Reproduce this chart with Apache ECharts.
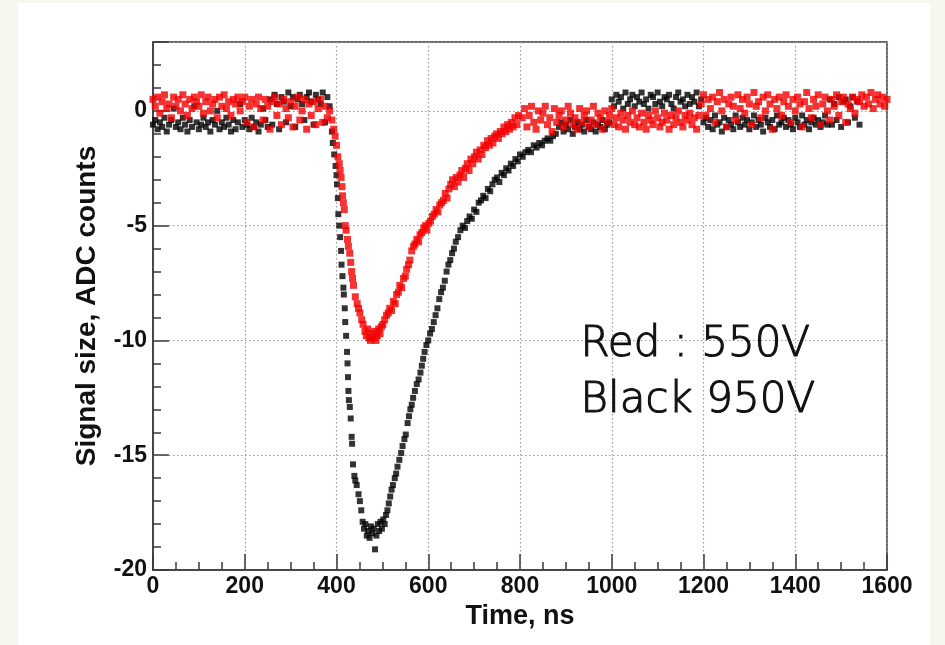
<!DOCTYPE html>
<html>
<head>
<meta charset="utf-8">
<script src="https://cdn.jsdelivr.net/npm/echarts@6/dist/echarts.min.js"></script>
<style>
  html, body { margin: 0; padding: 0; background: #f6f7ee; }
  #chart { width: 945px; height: 645px; }
</style>
</head>
<body>
<div id="chart"></div>
<script>
// baseline samples, every 5 ns (ADC counts)
const redPreStart = 0
const redPre = [
  0.5, 0.2, 0.6, -0.1, 0.4, 0.7, 0.1, 0.3, -0.3, 0.6, 0.2, 0.5, 0.0, 0.7, 0.3, -0.2, 0.5, 0.1, 0.6, 0.4,
  0.2, 0.7, -0.1, 0.4, 0.6, 0.0, 0.3, 0.5, -0.3, 0.6, 0.2, 0.7, 0.1, 0.4, -0.2, 0.5, 0.3, 0.6, 0.0, 0.4,
  0.6, -0.5, 0.2, 0.5, -0.7, 0.3, 0.6, 0.1, -0.4, 0.5, 0.2, -0.8, 0.4, 0.6, -0.2, 0.3, -0.6, 0.5, 0.1, -0.3,
  0.4, -0.7, 0.2, 0.6, -0.4, 0.0, 0.5, -0.8, 0.3, -0.2, 0.4, -0.6, 0.1, 0.5, -0.5, 0.2, -0.3, 0.0
]
const redPostStart = 805
const redPost = [
  -0.3, 0.1, -0.7, -0.2, 0.2, -0.5, -0.8, 0.0, -0.4, -0.1, 0.2, -0.6, -0.3, -0.9, 0.1, -0.5, -0.2, 0.0, -0.7, -0.4,
  0.2, -0.1, -0.6, -0.3, -0.8, 0.1, -0.5, -0.2, 0.0, -0.7, -0.4, 0.2, -0.6, -0.1, -0.3, -0.8, 0.0, -0.5, -0.2, 0.1,
  -0.6, -0.3, -0.7, -0.1, -0.4, -0.8, -0.2, -0.5, 0.0, -0.6, -0.3, -0.7, -0.1, -0.5, -0.8, -0.2, -0.4, -0.6, 0.0, -0.3,
  -0.7, -0.5, -0.1, -0.4, -0.8, -0.2, -0.6, -0.3, 0.0, -0.5, -0.7, -0.2, -0.4, -0.1, -0.6, -0.3, -0.8, -0.2,
  0.3, 0.7, -0.2, 0.5, 0.1, 0.6, -0.5, 0.4, 0.8, 0.0, 0.5, -0.7, 0.3, 0.6, 0.2, -0.4, 0.7, 0.1, 0.5, -0.1,
  0.6, 0.3, -0.6, 0.8, 0.2, 0.4, -0.3, 0.6, 0.0, 0.7, 0.3, -0.8, 0.5, 0.1, 0.6, -0.2, 0.4, 0.7, 0.2, -0.5,
  0.5, 0.0, 0.6, 0.3, -0.7, 0.4, 0.8, 0.1, -0.3, 0.5, 0.2, 0.7, -0.6, 0.3, 0.6, 0.0, -0.4, 0.5, 0.2, 0.7,
  -0.2, 0.4, 0.6, -0.5, 0.3, 0.1, 0.6, -0.1, 0.5,
  0.4, 0.7, 0.2, 0.6, 0.3, 0.8, 0.1, 0.5, 0.7, 0.3, 0.6, 0.2, 0.5
]
const redPulse = [
  [390, -0.4], [394, -0.8], [397, -1.1], [400, -1.5], [403, -2.0], [406, -2.3], [408, -2.6], [410, -2.9],
  [412, -3.3], [413, -3.7], [415, -4.0], [417, -4.3], [419, -5.0], [421, -5.2], [424, -5.6], [426, -5.9],
  [429, -6.2], [431, -6.6], [433, -7.0], [435, -7.3], [437, -7.6], [441, -8.1], [445, -8.4], [448, -8.6],
  [451, -8.8], [455, -9.1], [458, -9.3], [462, -9.6], [465, -9.8], [468, -9.5], [471, -9.9], [474, -10.0],
  [477, -9.7], [480, -9.9], [483, -9.6], [486, -10.0], [489, -9.8], [492, -9.5], [495, -9.7], [498, -9.4],
  [501, -9.3], [505, -9.1], [509, -8.9], [513, -8.8], [516, -8.6], [520, -8.7], [524, -8.3], [528, -8.4],
  [531, -8.0], [535, -7.9], [538, -7.6], [542, -7.7], [546, -7.3], [550, -7.2], [553, -6.9], [557, -6.7],
  [560, -6.5], [564, -6.1], [568, -5.9], [571, -5.8], [575, -5.6], [579, -5.7], [582, -5.4], [586, -5.3],
  [590, -5.1], [594, -5.0], [597, -5.2], [601, -4.9], [605, -4.8], [609, -4.6], [613, -4.5], [617, -4.3],
  [621, -4.4], [625, -4.1], [629, -4.0], [633, -3.9], [637, -3.6], [641, -3.8], [645, -3.4], [649, -3.2],
  [653, -3.0], [657, -3.3], [661, -2.9], [665, -3.1], [669, -2.8], [673, -2.6], [677, -2.9], [681, -2.5],
  [685, -2.3], [689, -2.6], [693, -2.1], [697, -2.3], [701, -2.0], [705, -1.8], [709, -2.1], [713, -1.7],
  [717, -1.9], [721, -1.5], [725, -1.6], [729, -1.3], [733, -1.5], [737, -1.2], [741, -1.4], [745, -1.1],
  [749, -1.0], [753, -1.2], [757, -0.9], [761, -1.0], [765, -0.7], [769, -0.9], [773, -0.6], [777, -0.8],
  [781, -0.5], [785, -0.7], [789, -0.3], [793, -0.6], [797, -0.2]
]

const blackPreStart = 0
const blackPre = [
  -0.6, -0.4, -0.8, -0.5, -0.7, -0.3, -0.9, -0.6, -0.4, 0.1, -0.7, -0.5, -0.8, -0.3, -0.6, -0.9, -0.4, -0.7, 0.2, -0.5,
  -0.8, -0.6, -0.3, -0.7, -0.5, -0.9, -0.4, -0.6, 0.0, -0.8, -0.5, -0.7, -0.3, -0.6, -0.9, -0.4, -0.8, -0.5, 0.3, -0.7,
  -0.4, -0.6, -0.8, -0.3, -0.7, -0.5, -0.9, -0.6, 0.1, -0.4, -0.7,
  0.5, -0.6, 0.7, 0.3, -0.8, 0.6, 0.4, -0.5, 0.8, 0.2, 0.6, -0.7, 0.5, 0.7, 0.3, -0.4, 0.6, 0.8, 0.4, -0.6,
  0.7, 0.5, 0.3, 0.8, -0.5, 0.6, 0.2
]
const blackPostStart = 885
const blackPost = [
  -0.7, -0.5, -0.9, -0.6, -0.8, -0.4, -1.0, -0.7, -0.5, -0.8, -0.6, -0.9, -0.4, -0.7, -0.8, -0.5, -0.9, -0.6, -0.7, -0.4,
  -0.8, -0.6, -0.5,
  0.5, 0.2, 0.7, 0.4, 0.6, 0.1, 0.8, 0.3, 0.5, 0.7, 0.2, 0.6, 0.4, 0.8, 0.3, 0.5, 0.1, 0.7, 0.6, 0.3,
  0.8, 0.4, 0.2, 0.6, 0.5, 0.7, 0.3, 0.1, 0.6, 0.8, 0.4, 0.5, 0.2, 0.7, 0.3, 0.6, 0.4, 0.8, 0.2, 0.5,
  -0.5, -0.3, -0.7, -0.4, -0.8, -0.2, -0.6, -0.5, -0.9, -0.3, -0.7, -0.4, -0.6, -0.8, -0.2, -0.5, -0.7, -0.3, -0.6, -0.4,
  -0.8, -0.5, -0.2, -0.7, -0.4, -0.6, -0.9, -0.3, -0.5, -0.7, -0.4, -0.8, -0.2, -0.6, -0.5, -0.3, -0.7, -0.4, -0.6, -0.8,
  -0.3, -0.5, -0.7, -0.2, -0.6, -0.4, -0.8, -0.5, -0.3, -0.6, -0.4, -0.7, -0.5, -0.2, -0.6,
  0.5, -0.6, 0.3, -0.4, 0.6, -0.7, 0.4, 0.5, -0.5, 0.2, 0.6, -0.3, 0.4, -0.6
]
const blackPulse = [
  [390, -0.9], [392, -1.4], [395, -1.9], [398, -2.4], [400, -2.8], [401, -3.2], [403, -3.8], [404, -4.5],
  [406, -5.0], [408, -5.5], [410, -6.1], [411, -6.7], [413, -7.2], [415, -7.7], [416, -8.0], [418, -8.6],
  [419, -9.2], [421, -9.8], [423, -10.5], [424, -11.0], [425, -11.6], [426, -12.2], [427, -12.6], [429, -12.9],
  [431, -13.4], [433, -14.2], [434, -14.5], [436, -15.4], [439, -15.9], [441, -16.1], [444, -16.3], [448, -16.7],
  [451, -17.0], [454, -17.4], [457, -17.9], [460, -18.2], [463, -18.0], [466, -18.5], [469, -18.3], [472, -18.6],
  [475, -18.1], [478, -18.4], [481, -18.2], [484, -19.1], [487, -18.5], [490, -18.0], [493, -18.3], [496, -17.9],
  [499, -18.2], [502, -17.8], [505, -18.0], [508, -17.6], [511, -17.4], [514, -17.1], [517, -16.8], [520, -16.5],
  [523, -16.3], [527, -16.0], [530, -15.8], [533, -15.5], [537, -15.2], [541, -14.9], [544, -14.6], [548, -14.3],
  [551, -14.1], [555, -13.6], [558, -13.3], [561, -13.0], [564, -12.8], [567, -12.5], [571, -12.2], [575, -11.9],
  [579, -11.7], [583, -11.4], [586, -11.1], [589, -10.8], [592, -10.5], [596, -10.2], [600, -10.0], [604, -9.7],
  [608, -9.5], [612, -9.2], [616, -8.9], [620, -8.6], [624, -8.2], [628, -7.9], [632, -7.7], [636, -7.4],
  [640, -7.0], [644, -6.7], [648, -6.5], [652, -6.2], [656, -6.0], [660, -5.7], [665, -5.5], [670, -5.2],
  [675, -5.0], [680, -5.1], [685, -4.8], [690, -4.6], [695, -4.7], [700, -4.3], [705, -4.4], [710, -4.0],
  [715, -3.9], [720, -3.7], [725, -3.8], [730, -3.4], [735, -3.5], [740, -3.2], [745, -3.0], [750, -2.9],
  [755, -3.1], [760, -2.7], [765, -2.8], [770, -2.5], [775, -2.6], [780, -2.3], [785, -2.4], [790, -2.1],
  [795, -2.2], [800, -1.9], [806, -2.0], [812, -1.8], [818, -1.7], [824, -1.8], [830, -1.5], [836, -1.6],
  [842, -1.4], [848, -1.5], [854, -1.3], [860, -1.2], [866, -1.3], [872, -1.1], [878, -1.0]
]

const sampleStep = 5
const annotationLines = ['Red : 550V', 'Black 950V']

function samples(start, values) {
  return values.map((v, i) => [start + i * sampleStep, v])
}

const redData = samples(redPreStart, redPre).concat(redPulse, samples(redPostStart, redPost))
const blackData = samples(blackPreStart, blackPre).concat(blackPulse, samples(blackPostStart, blackPost))

const chart = echarts.init(document.getElementById('chart'), null, { renderer: 'canvas' })

const tickFont = {
  color: '#111',
  fontFamily: 'Liberation Sans, Arial, sans-serif',
  fontWeight: 'bold',
  fontSize: 23
}

chart.setOption({
  backgroundColor: '#f6f7ee',
  animation: false,
  graphic: [
    {
      type: 'rect',
      z: -10,
      shape: { x: 18, y: 3, width: 912, height: 645 },
      style: { fill: '#ffffff' },
      silent: true
    },
    {
      type: 'text',
      left: 580,
      top: 317,
      z: 10,
      style: {
        text: annotationLines.join('\n'),
        fill: '#111',
        stroke: '#111',
        lineWidth: 1.1,
        font: '200 42px "DejaVu Sans", Lato, sans-serif',
        lineHeight: 56
      }
    }
  ],
  grid: {
    left: 153,
    right: 58,
    top: 42,
    bottom: 75,
    show: true,
    backgroundColor: '#ffffff',
    borderColor: '#3a3a3a',
    borderWidth: 1.5
  },
  xAxis: {
    type: 'value',
    min: 0,
    max: 1600,
    interval: 200,
    name: 'Time, ns',
    nameLocation: 'middle',
    nameGap: 32,
    nameTextStyle: Object.assign({}, tickFont, { fontSize: 27 }),
    axisLine: { show: true, onZero: false, lineStyle: { color: '#3a3a3a', width: 1.5 } },
    axisTick: { inside: true, length: 16, lineStyle: { color: '#3a3a3a', width: 1.5 } },
    minorTick: { show: true, splitNumber: 4, length: 8, lineStyle: { color: '#3a3a3a', width: 1.5 } },
    axisLabel: Object.assign({ margin: 5, formatter: (v) => String(v) }, tickFont),
    splitLine: { show: true, lineStyle: { color: '#9a9a9a', width: 1.2, type: [1.5, 2.5] } }
  },
  yAxis: {
    type: 'value',
    min: -20,
    max: 3,
    interval: 5,
    name: 'Signal size, ADC counts',
    nameLocation: 'middle',
    nameGap: 52,
    nameTextStyle: Object.assign({}, tickFont, { fontSize: 28 }),
    axisLine: { show: true, onZero: false, lineStyle: { color: '#3a3a3a', width: 1.5 } },
    axisTick: { inside: true, length: 16, lineStyle: { color: '#3a3a3a', width: 1.5 } },
    minorTick: { show: true, splitNumber: 5, length: 8, lineStyle: { color: '#3a3a3a', width: 1.5 } },
    axisLabel: Object.assign({ margin: 6, showMaxLabel: false }, tickFont),
    splitLine: { show: true, lineStyle: { color: '#9a9a9a', width: 1.2, type: [1.5, 2.5] } }
  },
  series: [
    {
      name: 'Black 950V',
      type: 'scatter',
      symbol: 'rect',
      symbolSize: 6,
      itemStyle: { color: '#000000' },
      data: blackData
    },
    {
      name: 'Red 550V',
      type: 'scatter',
      symbol: 'rect',
      symbolSize: 7,
      itemStyle: { color: '#f20000' },
      data: redData
    }
  ]
})
</script>
</body>
</html>
